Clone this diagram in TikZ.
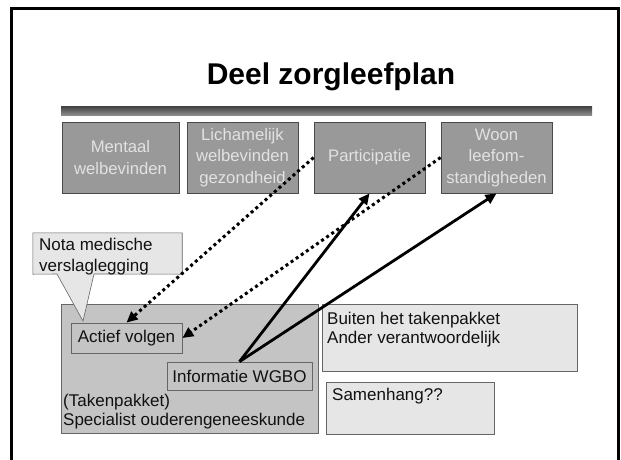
\documentclass[tikz,border=0pt]{standalone}
\usepackage{fontspec}
\setmainfont{Liberation Sans}
\usetikzlibrary{arrows.meta}
\definecolor{topfill}{HTML}{999999}
\definecolor{topdraw}{HTML}{4A4A4A}
\definecolor{toptext}{HTML}{E2E2E2}
\definecolor{bigfill}{HTML}{C4C4C4}
\definecolor{lightfill}{HTML}{E6E6E6}
\definecolor{boxdraw}{HTML}{666666}
\definecolor{txt}{HTML}{111111}
\tikzset{
  topbox/.style={draw=topdraw, fill=topfill, line width=0.8pt, text=toptext, align=center,
    minimum height=71pt, inner sep=0pt, font=\fontsize{16.7}{21.5}\selectfont},
  innerbox/.style={draw=boxdraw, line width=0.8pt, inner sep=0pt, text=txt,
    font=\fontsize{17}{20}\selectfont},
  lightbox/.style={draw=boxdraw, fill=lightfill, line width=0.8pt, inner sep=0pt},
  plaintext/.style={inner sep=0pt, text=txt, align=left, font=\fontsize{17}{20}\selectfont},
  dotarrow/.style={line width=3pt, dash pattern=on 3pt off 3.2pt, -{Triangle[length=11pt,width=10pt]}},
  solidarrow/.style={line width=2.8pt, -{Triangle[length=11pt,width=10pt]}}
}
\begin{document}
\begin{tikzpicture}[x=1pt,y=-1pt]
\useasboundingbox (0,0) rectangle (621,459);
\fill[white] (0,0) rectangle (621,459);
% frame
\draw[line width=3pt] (11,462) -- (11,8.5) -- (618,8.5) -- (618,462);
% title
\node[inner sep=0pt, font=\fontsize{30}{36}\selectfont\bfseries] (title) at (331,77) {Deel zorgleefplan};
% rule
\shade[top color=black!75, bottom color=black!45] (61,106) rectangle (592,115);
% top boxes
\node[topbox, minimum width=117pt] (b1) at (120.5,157.5) {Mentaal\\welbevinden};
\node[topbox, minimum width=111pt] (b2) at (242.5,157.5) {Lichamelijk\\welbevinden\\gezondheid};
\node[topbox, minimum width=111pt] (b3) at (369.5,157.5) {Participatie};
\node[topbox, minimum width=111pt] (b4) at (496.5,157.5) {Woon\\leefom-\\standigheden};
% big box
\node[draw=boxdraw, fill=bigfill, line width=0.8pt, minimum width=257pt, minimum height=129pt, inner sep=0pt] (big) at (189.5,368.5) {};
\node[plaintext, anchor=base west] (tak1) at (63,406) {(Takenpakket)};
\node[plaintext, anchor=base west] (tak2) at (63,425) {Specialist ouderengeneeskunde};
% inner boxes
\node[innerbox, minimum width=111pt, minimum height=30pt] (act) at (126.5,338) {Actief volgen};
\node[innerbox, minimum width=145pt, minimum height=28pt] (info) at (239.5,376) {Informatie WGBO};
% callout
\node[minimum width=149pt, minimum height=41pt, inner sep=0pt] (nota) at (107.5,253.5) {};
\draw[draw=boxdraw, fill=lightfill, line width=0.6pt]
  (nota.north west) -- (nota.north east) -- (nota.south east) -- (94,274) -- (83,321) -- (57,274) -- (nota.south west) -- cycle;
\node[plaintext, anchor=base west] (nota1) at (39,250) {Nota medische};
\node[plaintext, anchor=base west] (nota2) at (39,271) {verslaglegging};
% right boxes
\node[lightbox, minimum width=255pt, minimum height=67pt] (buiten) at (449.5,337.5) {};
\node[plaintext, anchor=base west] (bt1) at (327,324) {Buiten het takenpakket};
\node[plaintext, anchor=base west] (bt2) at (327,343) {Ander verantwoordelijk};
\node[lightbox, minimum width=168pt, minimum height=52pt] (samen) at (410,408) {};
\node[plaintext, anchor=base west] (st) at (332,400) {Samenhang??};
% arrows
\draw[dotarrow] (b3.west) -- (act.north);
\draw[dotarrow] (b4.west) -- (act.east);
\draw[solidarrow] (info.north) -- (b3.south);
\draw[solidarrow] (info.north) -- (b4.south);
\end{tikzpicture}
\end{document}
